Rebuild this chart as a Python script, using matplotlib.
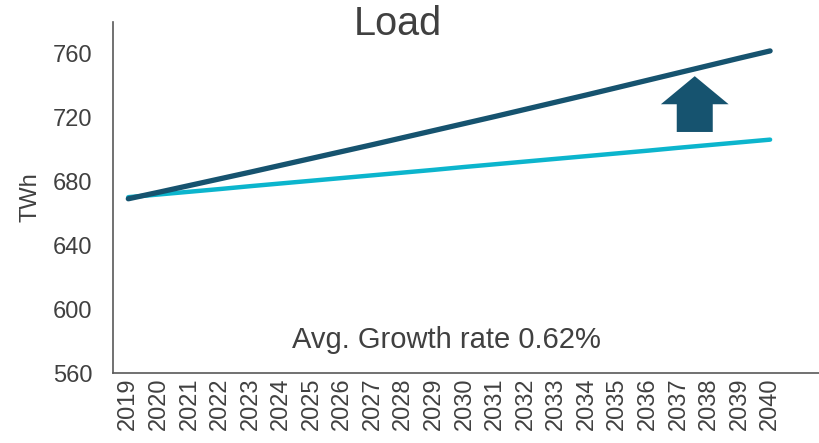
import numpy as np
import matplotlib.pyplot as plt
from matplotlib.patches import Polygon

plt.rcParams['font.family'] = ['Liberation Sans', 'DejaVu Sans']

darkcol  = '#16536f'
lightcol = '#0cb5cd'
textcol  = '#404040'
axiscol  = '#595959'

years = list(range(2019, 2041))
load_high = [669.0, 673.1, 677.3, 681.5, 685.7, 690.0, 694.3, 698.6, 702.9, 707.3, 711.7,
             716.1, 720.5, 725.0, 729.5, 734.0, 738.6, 743.2, 747.8, 752.4, 757.0, 761.5]
load_base = [670, 671.7, 673.4, 675.1, 676.9, 678.6, 680.3, 682, 683.7, 685.4, 687.1,
             688.9, 690.6, 692.3, 694, 695.7, 697.4, 699.1, 700.9, 702.6, 704.3, 706]
yticks = [560, 600, 640, 680, 720, 760]

fig = plt.figure(figsize=(8.19, 4.43), dpi=100)
ax = fig.add_axes([0.138, 0.158, 0.862, 0.792])

x = np.arange(len(years))
ax.plot(x, load_base, color=lightcol, lw=3.2, solid_capstyle='round')
ax.plot(x, load_high, color=darkcol, lw=3.8, solid_capstyle='round')

# up arrow (axes fraction)
tx, ty = 0.824, 0.846
hb, bt = 0.766, 0.687
hw, sw = 0.048, 0.0255
arrow = Polygon([(tx, ty), (tx + hw, hb), (tx + sw, hb), (tx + sw, bt),
                 (tx - sw, bt), (tx - sw, hb), (tx - hw, hb)],
                closed=True, transform=ax.transAxes, facecolor=darkcol,
                edgecolor='none')
ax.add_patch(arrow)

ax.text(0.472, 0.094, 'Avg. Growth rate 0.62%', transform=ax.transAxes,
        ha='center', va='center', fontsize=21, color=textcol)

ax.set_xlim(-0.5, 22.6)
ax.set_ylim(560, 779.5)
ax.set_xticks(x)
ax.set_xticklabels([str(y) for y in years], rotation=90)
ax.set_yticks(yticks)
ax.tick_params(length=0, labelsize=17, colors=textcol)
ax.tick_params(axis='y', pad=15)
ax.tick_params(axis='x', pad=3)
ax.set_ylabel('TWh', fontsize=17, color=textcol, labelpad=8)

for s in ['top', 'right']:
    ax.spines[s].set_visible(False)
for s in ['left', 'bottom']:
    ax.spines[s].set_color(axiscol)
    ax.spines[s].set_linewidth(1.2)

fig.text(0.486, 0.946, 'Load', ha='center', va='center', fontsize=28.5, color=textcol)

fig.savefig('out.png', dpi=100)
